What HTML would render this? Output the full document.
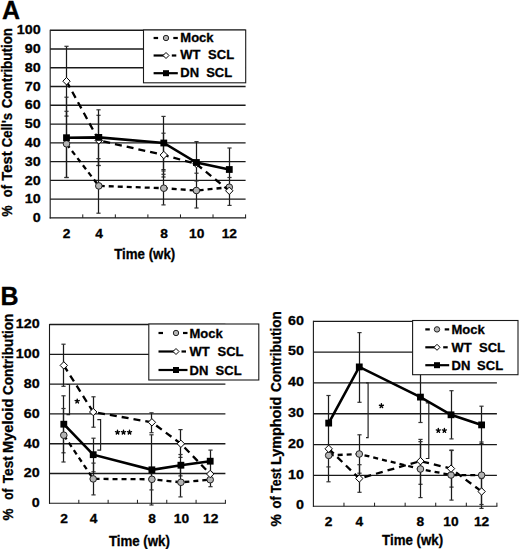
<!DOCTYPE html><html><head><meta charset="utf-8"><style>html,body{margin:0;padding:0;background:#fff;}svg{display:block;}</style></head><body>
<svg width="520" height="549" viewBox="0 0 520 549">
<rect width="520" height="549" fill="#fff"/>
<text x="1.9" y="19" font-size="25" font-family="Liberation Sans, sans-serif" font-weight="bold" stroke="#000" stroke-width="0.3">A</text>
<text x="0.4" y="304.8" font-size="25" font-family="Liberation Sans, sans-serif" font-weight="bold" stroke="#000" stroke-width="0.3">B</text>
<line x1="50.2" y1="199.13" x2="245.6" y2="199.13" stroke="#1a1a1a" stroke-width="1.35"/>
<line x1="50.2" y1="180.36" x2="245.6" y2="180.36" stroke="#1a1a1a" stroke-width="1.35"/>
<line x1="50.2" y1="161.59" x2="245.6" y2="161.59" stroke="#1a1a1a" stroke-width="1.35"/>
<line x1="50.2" y1="142.82" x2="245.6" y2="142.82" stroke="#1a1a1a" stroke-width="1.35"/>
<line x1="50.2" y1="124.05" x2="245.6" y2="124.05" stroke="#1a1a1a" stroke-width="1.35"/>
<line x1="50.2" y1="105.28" x2="245.6" y2="105.28" stroke="#1a1a1a" stroke-width="1.35"/>
<line x1="50.2" y1="86.51" x2="245.6" y2="86.51" stroke="#1a1a1a" stroke-width="1.35"/>
<line x1="50.2" y1="67.74" x2="245.6" y2="67.74" stroke="#1a1a1a" stroke-width="1.35"/>
<line x1="50.2" y1="48.97" x2="245.6" y2="48.97" stroke="#1a1a1a" stroke-width="1.35"/>
<line x1="50.2" y1="30.20" x2="245.6" y2="30.20" stroke="#1a1a1a" stroke-width="1.35"/>
<line x1="50.2" y1="29.70" x2="50.2" y2="218.40" stroke="#1a1a1a" stroke-width="1.1"/>
<line x1="49.7" y1="217.90" x2="246.1" y2="217.90" stroke="#1a1a1a" stroke-width="1.1"/>
<line x1="82.77" y1="217.90" x2="82.77" y2="214.40" stroke="#1a1a1a" stroke-width="1"/>
<line x1="115.33" y1="217.90" x2="115.33" y2="214.40" stroke="#1a1a1a" stroke-width="1"/>
<line x1="147.90" y1="217.90" x2="147.90" y2="214.40" stroke="#1a1a1a" stroke-width="1"/>
<line x1="180.47" y1="217.90" x2="180.47" y2="214.40" stroke="#1a1a1a" stroke-width="1"/>
<line x1="213.03" y1="217.90" x2="213.03" y2="214.40" stroke="#1a1a1a" stroke-width="1"/>
<line x1="245.60" y1="217.90" x2="245.60" y2="214.40" stroke="#1a1a1a" stroke-width="1"/>
<text transform="translate(40.6,222.10) scale(1.1,1)" text-anchor="end" font-size="13" font-family="Liberation Sans, sans-serif" font-weight="bold" stroke="#000" stroke-width="0.3">0</text>
<text transform="translate(40.6,203.33) scale(1.1,1)" text-anchor="end" font-size="13" font-family="Liberation Sans, sans-serif" font-weight="bold" stroke="#000" stroke-width="0.3">10</text>
<text transform="translate(40.6,184.56) scale(1.1,1)" text-anchor="end" font-size="13" font-family="Liberation Sans, sans-serif" font-weight="bold" stroke="#000" stroke-width="0.3">20</text>
<text transform="translate(40.6,165.79) scale(1.1,1)" text-anchor="end" font-size="13" font-family="Liberation Sans, sans-serif" font-weight="bold" stroke="#000" stroke-width="0.3">30</text>
<text transform="translate(40.6,147.02) scale(1.1,1)" text-anchor="end" font-size="13" font-family="Liberation Sans, sans-serif" font-weight="bold" stroke="#000" stroke-width="0.3">40</text>
<text transform="translate(40.6,128.25) scale(1.1,1)" text-anchor="end" font-size="13" font-family="Liberation Sans, sans-serif" font-weight="bold" stroke="#000" stroke-width="0.3">50</text>
<text transform="translate(40.6,109.48) scale(1.1,1)" text-anchor="end" font-size="13" font-family="Liberation Sans, sans-serif" font-weight="bold" stroke="#000" stroke-width="0.3">60</text>
<text transform="translate(40.6,90.71) scale(1.1,1)" text-anchor="end" font-size="13" font-family="Liberation Sans, sans-serif" font-weight="bold" stroke="#000" stroke-width="0.3">70</text>
<text transform="translate(40.6,71.94) scale(1.1,1)" text-anchor="end" font-size="13" font-family="Liberation Sans, sans-serif" font-weight="bold" stroke="#000" stroke-width="0.3">80</text>
<text transform="translate(40.6,53.17) scale(1.1,1)" text-anchor="end" font-size="13" font-family="Liberation Sans, sans-serif" font-weight="bold" stroke="#000" stroke-width="0.3">90</text>
<text transform="translate(40.6,34.40) scale(1.1,1)" text-anchor="end" font-size="13" font-family="Liberation Sans, sans-serif" font-weight="bold" stroke="#000" stroke-width="0.3">100</text>
<text transform="translate(66.48,238) scale(1.06,1)" text-anchor="middle" font-size="13" font-family="Liberation Sans, sans-serif" font-weight="bold" stroke="#000" stroke-width="0.3">2</text>
<text transform="translate(99.05,238) scale(1.06,1)" text-anchor="middle" font-size="13" font-family="Liberation Sans, sans-serif" font-weight="bold" stroke="#000" stroke-width="0.3">4</text>
<text transform="translate(164.18,238) scale(1.06,1)" text-anchor="middle" font-size="13" font-family="Liberation Sans, sans-serif" font-weight="bold" stroke="#000" stroke-width="0.3">8</text>
<text transform="translate(196.75,238) scale(1.06,1)" text-anchor="middle" font-size="13" font-family="Liberation Sans, sans-serif" font-weight="bold" stroke="#000" stroke-width="0.3">10</text>
<text transform="translate(229.32,238) scale(1.06,1)" text-anchor="middle" font-size="13" font-family="Liberation Sans, sans-serif" font-weight="bold" stroke="#000" stroke-width="0.3">12</text>
<text transform="translate(144.7,258.7) scale(0.93,1)" text-anchor="middle" font-size="14.3" font-family="Liberation Sans, sans-serif" font-weight="bold" stroke="#000" stroke-width="0.3">Time (wk)</text>
<text transform="translate(11.7,0) rotate(-90)" x="-216.50" y="0" font-size="14" textLength="11.00" lengthAdjust="spacingAndGlyphs" font-family="Liberation Sans, sans-serif" font-weight="bold" stroke="#000" stroke-width="0.3">%</text>
<text transform="translate(11.7,0) rotate(-90)" x="-197.15" y="0" font-size="14" textLength="12.05" lengthAdjust="spacingAndGlyphs" font-family="Liberation Sans, sans-serif" font-weight="bold" stroke="#000" stroke-width="0.3">of</text>
<text transform="translate(11.7,0) rotate(-90)" x="-180.70" y="0" font-size="14" textLength="29.30" lengthAdjust="spacingAndGlyphs" font-family="Liberation Sans, sans-serif" font-weight="bold" stroke="#000" stroke-width="0.3">Test</text>
<text transform="translate(11.7,0) rotate(-90)" x="-147.30" y="0" font-size="14" textLength="34.40" lengthAdjust="spacingAndGlyphs" font-family="Liberation Sans, sans-serif" font-weight="bold" stroke="#000" stroke-width="0.3">Cell's</text>
<text transform="translate(11.7,0) rotate(-90)" x="-108.30" y="0" font-size="14" textLength="80.30" lengthAdjust="spacingAndGlyphs" font-family="Liberation Sans, sans-serif" font-weight="bold" stroke="#000" stroke-width="0.3">Contribution</text>
<line x1="66.50" y1="46.3" x2="66.50" y2="116.1" stroke="#1a1a1a" stroke-width="1.25"/>
<line x1="64.40" y1="46.3" x2="68.60" y2="46.3" stroke="#333" stroke-width="1.2"/>
<line x1="64.40" y1="116.1" x2="68.60" y2="116.1" stroke="#333" stroke-width="1.2"/>
<line x1="66.50" y1="97.2" x2="66.50" y2="177.5" stroke="#1a1a1a" stroke-width="1.25"/>
<line x1="64.40" y1="97.2" x2="68.60" y2="97.2" stroke="#333" stroke-width="1.2"/>
<line x1="64.40" y1="177.5" x2="68.60" y2="177.5" stroke="#333" stroke-width="1.2"/>
<line x1="66.50" y1="111.3" x2="66.50" y2="177.5" stroke="#1a1a1a" stroke-width="1.25"/>
<line x1="64.40" y1="111.3" x2="68.60" y2="111.3" stroke="#333" stroke-width="1.2"/>
<line x1="64.40" y1="177.5" x2="68.60" y2="177.5" stroke="#333" stroke-width="1.2"/>
<line x1="98.50" y1="115.3" x2="98.50" y2="165.5" stroke="#1a1a1a" stroke-width="1.25"/>
<line x1="96.40" y1="115.3" x2="100.60" y2="115.3" stroke="#333" stroke-width="1.2"/>
<line x1="96.40" y1="165.5" x2="100.60" y2="165.5" stroke="#333" stroke-width="1.2"/>
<line x1="98.50" y1="109.8" x2="98.50" y2="165.5" stroke="#1a1a1a" stroke-width="1.25"/>
<line x1="96.40" y1="109.8" x2="100.60" y2="109.8" stroke="#333" stroke-width="1.2"/>
<line x1="96.40" y1="165.5" x2="100.60" y2="165.5" stroke="#333" stroke-width="1.2"/>
<line x1="98.50" y1="158.6" x2="98.50" y2="213.2" stroke="#1a1a1a" stroke-width="1.25"/>
<line x1="96.40" y1="158.6" x2="100.60" y2="158.6" stroke="#333" stroke-width="1.2"/>
<line x1="96.40" y1="213.2" x2="100.60" y2="213.2" stroke="#333" stroke-width="1.2"/>
<line x1="163.50" y1="116.4" x2="163.50" y2="169.6" stroke="#1a1a1a" stroke-width="1.25"/>
<line x1="161.40" y1="116.4" x2="165.60" y2="116.4" stroke="#333" stroke-width="1.2"/>
<line x1="161.40" y1="169.6" x2="165.60" y2="169.6" stroke="#333" stroke-width="1.2"/>
<line x1="163.50" y1="133.2" x2="163.50" y2="177" stroke="#1a1a1a" stroke-width="1.25"/>
<line x1="161.40" y1="133.2" x2="165.60" y2="133.2" stroke="#333" stroke-width="1.2"/>
<line x1="161.40" y1="177" x2="165.60" y2="177" stroke="#333" stroke-width="1.2"/>
<line x1="163.50" y1="171" x2="163.50" y2="204.9" stroke="#1a1a1a" stroke-width="1.25"/>
<line x1="161.40" y1="171" x2="165.60" y2="171" stroke="#333" stroke-width="1.2"/>
<line x1="161.40" y1="174.3" x2="165.60" y2="174.3" stroke="#333" stroke-width="1.2"/>
<line x1="161.40" y1="204.9" x2="165.60" y2="204.9" stroke="#333" stroke-width="1.2"/>
<line x1="196.50" y1="141.6" x2="196.50" y2="208" stroke="#1a1a1a" stroke-width="1.25"/>
<line x1="194.40" y1="141.6" x2="198.60" y2="141.6" stroke="#333" stroke-width="1.2"/>
<line x1="194.40" y1="173.2" x2="198.60" y2="173.2" stroke="#333" stroke-width="1.2"/>
<line x1="194.40" y1="181" x2="198.60" y2="181" stroke="#333" stroke-width="1.2"/>
<line x1="194.40" y1="208" x2="198.60" y2="208" stroke="#333" stroke-width="1.2"/>
<line x1="229.50" y1="148" x2="229.50" y2="205.4" stroke="#1a1a1a" stroke-width="1.25"/>
<line x1="227.40" y1="148" x2="231.60" y2="148" stroke="#333" stroke-width="1.2"/>
<line x1="227.40" y1="177.5" x2="231.60" y2="177.5" stroke="#333" stroke-width="1.2"/>
<line x1="227.40" y1="205.4" x2="231.60" y2="205.4" stroke="#333" stroke-width="1.2"/>
<polyline points="66.50,143.8 98.80,185.9 163.80,188.2 196.40,190.5 229.30,187.2" fill="none" stroke="#000" stroke-width="2.3" stroke-dasharray="5 4"/>
<circle cx="66.50" cy="143.8" r="3.3" fill="#b4b4b4" stroke="#222" stroke-width="1"/>
<circle cx="98.80" cy="185.9" r="3.3" fill="#b4b4b4" stroke="#222" stroke-width="1"/>
<circle cx="163.80" cy="188.2" r="3.3" fill="#b4b4b4" stroke="#222" stroke-width="1"/>
<circle cx="196.40" cy="190.5" r="3.3" fill="#b4b4b4" stroke="#222" stroke-width="1"/>
<circle cx="229.30" cy="187.2" r="3.3" fill="#b4b4b4" stroke="#222" stroke-width="1"/>
<polyline points="66.50,81.2 98.80,140.4 163.80,155 196.40,164 229.30,190.8" fill="none" stroke="#000" stroke-width="2.3" stroke-dasharray="7 5"/>
<polygon points="62.80,81.2 66.50,77.5 70.20,81.2 66.50,84.9" fill="#fff" stroke="#000" stroke-width="1"/>
<polygon points="95.10,140.4 98.80,136.70000000000002 102.50,140.4 98.80,144.1" fill="#fff" stroke="#000" stroke-width="1"/>
<polygon points="160.10,155 163.80,151.3 167.50,155 163.80,158.7" fill="#fff" stroke="#000" stroke-width="1"/>
<polygon points="192.70,164 196.40,160.3 200.10,164 196.40,167.7" fill="#fff" stroke="#000" stroke-width="1"/>
<polygon points="225.60,190.8 229.30,187.10000000000002 233.00,190.8 229.30,194.5" fill="#fff" stroke="#000" stroke-width="1"/>
<polyline points="66.50,137.7 98.80,137.4 163.80,143 196.40,162.5 229.30,169.5" fill="none" stroke="#000" stroke-width="2.6"/>
<rect x="63.10" y="134.30" width="6.8" height="6.8" fill="#000"/>
<rect x="95.40" y="134.00" width="6.8" height="6.8" fill="#000"/>
<rect x="160.40" y="139.60" width="6.8" height="6.8" fill="#000"/>
<rect x="193.00" y="159.10" width="6.8" height="6.8" fill="#000"/>
<rect x="225.90" y="166.10" width="6.8" height="6.8" fill="#000"/>
<rect x="143.5" y="30" width="102.2" height="52.8" fill="#fff" stroke="#1a1a1a" stroke-width="1.1"/>
<line x1="153.6" y1="38" x2="158.1" y2="38" stroke="#000" stroke-width="2.2"/>
<line x1="173.3" y1="38" x2="177.8" y2="38" stroke="#000" stroke-width="2.2"/>
<circle cx="166" cy="38" r="2.7" fill="#b4b4b4" stroke="#222" stroke-width="1"/>
<text x="180.3" y="41.9" font-size="13" font-family="Liberation Sans, sans-serif" font-weight="bold" stroke="#000" stroke-width="0.3">Mock</text>
<line x1="153.6" y1="55.5" x2="166" y2="55.5" stroke="#000" stroke-width="2.2"/>
<line x1="171.8" y1="55.5" x2="176.3" y2="55.5" stroke="#000" stroke-width="2.2"/>
<polygon points="163.0,55.5 166,52.5 169.0,55.5 166,58.5" fill="#fff" stroke="#000" stroke-width="1"/>
<text x="180.3" y="59.4" font-size="13" font-family="Liberation Sans, sans-serif" font-weight="bold" stroke="#000" stroke-width="0.3">WT</text>
<text x="208.10000000000002" y="59.4" font-size="13" font-family="Liberation Sans, sans-serif" font-weight="bold" stroke="#000" stroke-width="0.3">SCL</text>
<line x1="153.6" y1="73.2" x2="177.8" y2="73.2" stroke="#000" stroke-width="2.2"/>
<rect x="163" y="70.2" width="6" height="6" fill="#000"/>
<text x="180.3" y="77.10000000000001" font-size="13" font-family="Liberation Sans, sans-serif" font-weight="bold" stroke="#000" stroke-width="0.3">DN</text>
<text x="206.20000000000002" y="77.10000000000001" font-size="13" font-family="Liberation Sans, sans-serif" font-weight="bold" stroke="#000" stroke-width="0.3">SCL</text>
<line x1="49.5" y1="473.50" x2="225.4" y2="473.50" stroke="#1a1a1a" stroke-width="1.35"/>
<line x1="49.5" y1="443.70" x2="225.4" y2="443.70" stroke="#1a1a1a" stroke-width="1.35"/>
<line x1="49.5" y1="413.90" x2="225.4" y2="413.90" stroke="#1a1a1a" stroke-width="1.35"/>
<line x1="49.5" y1="384.10" x2="225.4" y2="384.10" stroke="#1a1a1a" stroke-width="1.35"/>
<line x1="49.5" y1="354.30" x2="225.4" y2="354.30" stroke="#1a1a1a" stroke-width="1.35"/>
<line x1="49.5" y1="324.50" x2="225.4" y2="324.50" stroke="#1a1a1a" stroke-width="1.35"/>
<line x1="49.5" y1="324.00" x2="49.5" y2="503.80" stroke="#1a1a1a" stroke-width="1.1"/>
<line x1="49.0" y1="503.30" x2="225.9" y2="503.30" stroke="#1a1a1a" stroke-width="1.1"/>
<line x1="78.82" y1="503.30" x2="78.82" y2="499.80" stroke="#1a1a1a" stroke-width="1"/>
<line x1="108.13" y1="503.30" x2="108.13" y2="499.80" stroke="#1a1a1a" stroke-width="1"/>
<line x1="137.45" y1="503.30" x2="137.45" y2="499.80" stroke="#1a1a1a" stroke-width="1"/>
<line x1="166.77" y1="503.30" x2="166.77" y2="499.80" stroke="#1a1a1a" stroke-width="1"/>
<line x1="196.08" y1="503.30" x2="196.08" y2="499.80" stroke="#1a1a1a" stroke-width="1"/>
<line x1="225.40" y1="503.30" x2="225.40" y2="499.80" stroke="#1a1a1a" stroke-width="1"/>
<text transform="translate(39.6,507.10) scale(1.1,1)" text-anchor="end" font-size="13" font-family="Liberation Sans, sans-serif" font-weight="bold" stroke="#000" stroke-width="0.3">0</text>
<text transform="translate(39.6,477.30) scale(1.1,1)" text-anchor="end" font-size="13" font-family="Liberation Sans, sans-serif" font-weight="bold" stroke="#000" stroke-width="0.3">20</text>
<text transform="translate(39.6,447.50) scale(1.1,1)" text-anchor="end" font-size="13" font-family="Liberation Sans, sans-serif" font-weight="bold" stroke="#000" stroke-width="0.3">40</text>
<text transform="translate(39.6,417.70) scale(1.1,1)" text-anchor="end" font-size="13" font-family="Liberation Sans, sans-serif" font-weight="bold" stroke="#000" stroke-width="0.3">60</text>
<text transform="translate(39.6,387.90) scale(1.1,1)" text-anchor="end" font-size="13" font-family="Liberation Sans, sans-serif" font-weight="bold" stroke="#000" stroke-width="0.3">80</text>
<text transform="translate(39.6,358.10) scale(1.1,1)" text-anchor="end" font-size="13" font-family="Liberation Sans, sans-serif" font-weight="bold" stroke="#000" stroke-width="0.3">100</text>
<text transform="translate(39.6,328.30) scale(1.1,1)" text-anchor="end" font-size="13" font-family="Liberation Sans, sans-serif" font-weight="bold" stroke="#000" stroke-width="0.3">120</text>
<text transform="translate(64.16,523.4) scale(1.06,1)" text-anchor="middle" font-size="13" font-family="Liberation Sans, sans-serif" font-weight="bold" stroke="#000" stroke-width="0.3">2</text>
<text transform="translate(93.47,523.4) scale(1.06,1)" text-anchor="middle" font-size="13" font-family="Liberation Sans, sans-serif" font-weight="bold" stroke="#000" stroke-width="0.3">4</text>
<text transform="translate(152.11,523.4) scale(1.06,1)" text-anchor="middle" font-size="13" font-family="Liberation Sans, sans-serif" font-weight="bold" stroke="#000" stroke-width="0.3">8</text>
<text transform="translate(181.43,523.4) scale(1.06,1)" text-anchor="middle" font-size="13" font-family="Liberation Sans, sans-serif" font-weight="bold" stroke="#000" stroke-width="0.3">10</text>
<text transform="translate(210.74,523.4) scale(1.06,1)" text-anchor="middle" font-size="13" font-family="Liberation Sans, sans-serif" font-weight="bold" stroke="#000" stroke-width="0.3">12</text>
<text transform="translate(139.4,545.5) scale(0.93,1)" text-anchor="middle" font-size="14.3" font-family="Liberation Sans, sans-serif" font-weight="bold" stroke="#000" stroke-width="0.3">Time (wk)</text>
<text transform="translate(12.5,0) rotate(-90)" x="-520.60" y="0" font-size="14" textLength="11.90" lengthAdjust="spacingAndGlyphs" font-family="Liberation Sans, sans-serif" font-weight="bold" stroke="#000" stroke-width="0.3">%</text>
<text transform="translate(12.5,0) rotate(-90)" x="-499.70" y="0" font-size="14" textLength="11.10" lengthAdjust="spacingAndGlyphs" font-family="Liberation Sans, sans-serif" font-weight="bold" stroke="#000" stroke-width="0.3">of</text>
<text transform="translate(12.5,0) rotate(-90)" x="-483.20" y="0" font-size="14" textLength="27.00" lengthAdjust="spacingAndGlyphs" font-family="Liberation Sans, sans-serif" font-weight="bold" stroke="#000" stroke-width="0.3">Test</text>
<text transform="translate(12.5,0) rotate(-90)" x="-452.90" y="0" font-size="14" textLength="54.20" lengthAdjust="spacingAndGlyphs" font-family="Liberation Sans, sans-serif" font-weight="bold" stroke="#000" stroke-width="0.3">Myeloid</text>
<text transform="translate(12.5,0) rotate(-90)" x="-395.00" y="0" font-size="14" textLength="81.20" lengthAdjust="spacingAndGlyphs" font-family="Liberation Sans, sans-serif" font-weight="bold" stroke="#000" stroke-width="0.3">Contribution</text>
<line x1="63.50" y1="344.2" x2="63.50" y2="386.3" stroke="#1a1a1a" stroke-width="1.25"/>
<line x1="61.40" y1="344.2" x2="65.60" y2="344.2" stroke="#333" stroke-width="1.2"/>
<line x1="61.40" y1="386.3" x2="65.60" y2="386.3" stroke="#333" stroke-width="1.2"/>
<line x1="63.50" y1="395.8" x2="63.50" y2="452.8" stroke="#1a1a1a" stroke-width="1.25"/>
<line x1="61.40" y1="395.8" x2="65.60" y2="395.8" stroke="#333" stroke-width="1.2"/>
<line x1="61.40" y1="452.8" x2="65.60" y2="452.8" stroke="#333" stroke-width="1.2"/>
<line x1="63.50" y1="408.5" x2="63.50" y2="462" stroke="#1a1a1a" stroke-width="1.25"/>
<line x1="61.40" y1="408.5" x2="65.60" y2="408.5" stroke="#333" stroke-width="1.2"/>
<line x1="61.40" y1="462" x2="65.60" y2="462" stroke="#333" stroke-width="1.2"/>
<line x1="93.50" y1="396.8" x2="93.50" y2="427.2" stroke="#1a1a1a" stroke-width="1.25"/>
<line x1="91.40" y1="396.8" x2="95.60" y2="396.8" stroke="#333" stroke-width="1.2"/>
<line x1="91.40" y1="427.2" x2="95.60" y2="427.2" stroke="#333" stroke-width="1.2"/>
<line x1="93.50" y1="438.2" x2="93.50" y2="471.8" stroke="#1a1a1a" stroke-width="1.25"/>
<line x1="91.40" y1="438.2" x2="95.60" y2="438.2" stroke="#333" stroke-width="1.2"/>
<line x1="91.40" y1="471.8" x2="95.60" y2="471.8" stroke="#333" stroke-width="1.2"/>
<line x1="93.50" y1="463.1" x2="93.50" y2="494.9" stroke="#1a1a1a" stroke-width="1.25"/>
<line x1="91.40" y1="463.1" x2="95.60" y2="463.1" stroke="#333" stroke-width="1.2"/>
<line x1="91.40" y1="494.9" x2="95.60" y2="494.9" stroke="#333" stroke-width="1.2"/>
<line x1="151.50" y1="412.8" x2="151.50" y2="432.7" stroke="#1a1a1a" stroke-width="1.25"/>
<line x1="149.40" y1="412.8" x2="153.60" y2="412.8" stroke="#333" stroke-width="1.2"/>
<line x1="149.40" y1="432.7" x2="153.60" y2="432.7" stroke="#333" stroke-width="1.2"/>
<line x1="151.50" y1="434.8" x2="151.50" y2="505" stroke="#1a1a1a" stroke-width="1.25"/>
<line x1="149.40" y1="434.8" x2="153.60" y2="434.8" stroke="#333" stroke-width="1.2"/>
<line x1="149.40" y1="505" x2="153.60" y2="505" stroke="#333" stroke-width="1.2"/>
<line x1="151.50" y1="468.7" x2="151.50" y2="489.9" stroke="#1a1a1a" stroke-width="1.25"/>
<line x1="149.40" y1="468.7" x2="153.60" y2="468.7" stroke="#333" stroke-width="1.2"/>
<line x1="149.40" y1="489.9" x2="153.60" y2="489.9" stroke="#333" stroke-width="1.2"/>
<line x1="180.50" y1="429.6" x2="180.50" y2="457.4" stroke="#1a1a1a" stroke-width="1.25"/>
<line x1="178.40" y1="429.6" x2="182.60" y2="429.6" stroke="#333" stroke-width="1.2"/>
<line x1="178.40" y1="457.4" x2="182.60" y2="457.4" stroke="#333" stroke-width="1.2"/>
<line x1="180.50" y1="454.5" x2="180.50" y2="475.9" stroke="#1a1a1a" stroke-width="1.25"/>
<line x1="178.40" y1="454.5" x2="182.60" y2="454.5" stroke="#333" stroke-width="1.2"/>
<line x1="178.40" y1="475.9" x2="182.60" y2="475.9" stroke="#333" stroke-width="1.2"/>
<line x1="180.50" y1="467.7" x2="180.50" y2="496.9" stroke="#1a1a1a" stroke-width="1.25"/>
<line x1="178.40" y1="467.7" x2="182.60" y2="467.7" stroke="#333" stroke-width="1.2"/>
<line x1="178.40" y1="496.9" x2="182.60" y2="496.9" stroke="#333" stroke-width="1.2"/>
<line x1="210.50" y1="450.1" x2="210.50" y2="472.3" stroke="#1a1a1a" stroke-width="1.25"/>
<line x1="208.40" y1="450.1" x2="212.60" y2="450.1" stroke="#333" stroke-width="1.2"/>
<line x1="208.40" y1="472.3" x2="212.60" y2="472.3" stroke="#333" stroke-width="1.2"/>
<line x1="210.50" y1="472.7" x2="210.50" y2="486.7" stroke="#1a1a1a" stroke-width="1.25"/>
<line x1="208.40" y1="472.7" x2="212.60" y2="472.7" stroke="#333" stroke-width="1.2"/>
<line x1="208.40" y1="486.7" x2="212.60" y2="486.7" stroke="#333" stroke-width="1.2"/>
<polyline points="66.5,384.5 69.5,384.5 69.5,414.6 66.5,414.6" fill="none" stroke="#222" stroke-width="1.2"/>
<polyline points="97.3,419.6 100.6,419.6 100.6,450.2 97.3,450.2" fill="none" stroke="#222" stroke-width="1.2"/>
<path d="M77.20,401.20L77.20,399.10M77.20,401.20L79.20,400.55M77.20,401.20L78.43,402.90M77.20,401.20L75.97,402.90M77.20,401.20L75.20,400.55" stroke="#000" stroke-width="1.4" stroke-linecap="round" fill="none"/>
<path d="M117.50,432.30L117.50,430.20M117.50,432.30L119.50,431.65M117.50,432.30L118.73,434.00M117.50,432.30L116.27,434.00M117.50,432.30L115.50,431.65" stroke="#000" stroke-width="1.4" stroke-linecap="round" fill="none"/>
<path d="M123.50,432.30L123.50,430.20M123.50,432.30L125.50,431.65M123.50,432.30L124.73,434.00M123.50,432.30L122.27,434.00M123.50,432.30L121.50,431.65" stroke="#000" stroke-width="1.4" stroke-linecap="round" fill="none"/>
<path d="M129.50,432.30L129.50,430.20M129.50,432.30L131.50,431.65M129.50,432.30L130.73,434.00M129.50,432.30L128.27,434.00M129.50,432.30L127.50,431.65" stroke="#000" stroke-width="1.4" stroke-linecap="round" fill="none"/>
<polyline points="63.80,435.2 93.20,478.9 151.90,479.3 180.90,482.3 210.20,479.7" fill="none" stroke="#000" stroke-width="2.3" stroke-dasharray="5 4"/>
<circle cx="63.80" cy="435.2" r="3.3" fill="#b4b4b4" stroke="#222" stroke-width="1"/>
<circle cx="93.20" cy="478.9" r="3.3" fill="#b4b4b4" stroke="#222" stroke-width="1"/>
<circle cx="151.90" cy="479.3" r="3.3" fill="#b4b4b4" stroke="#222" stroke-width="1"/>
<circle cx="180.90" cy="482.3" r="3.3" fill="#b4b4b4" stroke="#222" stroke-width="1"/>
<circle cx="210.20" cy="479.7" r="3.3" fill="#b4b4b4" stroke="#222" stroke-width="1"/>
<polyline points="63.80,365.4 93.20,412 151.90,422.3 180.90,443.8 210.20,474" fill="none" stroke="#000" stroke-width="2.3" stroke-dasharray="7 5"/>
<polygon points="60.10,365.4 63.80,361.7 67.50,365.4 63.80,369.09999999999997" fill="#fff" stroke="#000" stroke-width="1"/>
<polygon points="89.50,412 93.20,408.3 96.90,412 93.20,415.7" fill="#fff" stroke="#000" stroke-width="1"/>
<polygon points="148.20,422.3 151.90,418.6 155.60,422.3 151.90,426.0" fill="#fff" stroke="#000" stroke-width="1"/>
<polygon points="177.20,443.8 180.90,440.1 184.60,443.8 180.90,447.5" fill="#fff" stroke="#000" stroke-width="1"/>
<polygon points="206.50,474 210.20,470.3 213.90,474 210.20,477.7" fill="#fff" stroke="#000" stroke-width="1"/>
<polyline points="63.80,424.2 93.20,454.7 151.90,469.8 180.90,465.2 210.20,461.2" fill="none" stroke="#000" stroke-width="2.6"/>
<rect x="60.40" y="420.80" width="6.8" height="6.8" fill="#000"/>
<rect x="89.80" y="451.30" width="6.8" height="6.8" fill="#000"/>
<rect x="148.50" y="466.40" width="6.8" height="6.8" fill="#000"/>
<rect x="177.50" y="461.80" width="6.8" height="6.8" fill="#000"/>
<rect x="206.80" y="457.80" width="6.8" height="6.8" fill="#000"/>
<rect x="148.8" y="324" width="110" height="56" fill="#fff" stroke="#1a1a1a" stroke-width="1.1"/>
<line x1="158.5" y1="333" x2="163.0" y2="333" stroke="#000" stroke-width="2.2"/>
<line x1="183.0" y1="333" x2="187.5" y2="333" stroke="#000" stroke-width="2.2"/>
<circle cx="176" cy="333" r="2.7" fill="#b4b4b4" stroke="#222" stroke-width="1"/>
<text x="189.5" y="337.5" font-size="13" font-family="Liberation Sans, sans-serif" font-weight="bold" stroke="#000" stroke-width="0.3">Mock</text>
<line x1="158.5" y1="351.5" x2="176" y2="351.5" stroke="#000" stroke-width="2.2"/>
<line x1="181.5" y1="351.5" x2="186.0" y2="351.5" stroke="#000" stroke-width="2.2"/>
<polygon points="173.0,351.5 176,348.5 179.0,351.5 176,354.5" fill="#fff" stroke="#000" stroke-width="1"/>
<text x="189.5" y="356.0" font-size="13" font-family="Liberation Sans, sans-serif" font-weight="bold" stroke="#000" stroke-width="0.3">WT</text>
<text x="217.5" y="356.0" font-size="13" font-family="Liberation Sans, sans-serif" font-weight="bold" stroke="#000" stroke-width="0.3">SCL</text>
<line x1="158.5" y1="370" x2="187.5" y2="370" stroke="#000" stroke-width="2.2"/>
<rect x="173" y="367" width="6" height="6" fill="#000"/>
<text x="189.5" y="374.5" font-size="13" font-family="Liberation Sans, sans-serif" font-weight="bold" stroke="#000" stroke-width="0.3">DN</text>
<text x="215.6" y="374.5" font-size="13" font-family="Liberation Sans, sans-serif" font-weight="bold" stroke="#000" stroke-width="0.3">SCL</text>
<line x1="313.4" y1="475.38" x2="496.9" y2="475.38" stroke="#1a1a1a" stroke-width="1.35"/>
<line x1="313.4" y1="444.57" x2="496.9" y2="444.57" stroke="#1a1a1a" stroke-width="1.35"/>
<line x1="313.4" y1="413.75" x2="496.9" y2="413.75" stroke="#1a1a1a" stroke-width="1.35"/>
<line x1="313.4" y1="382.93" x2="496.9" y2="382.93" stroke="#1a1a1a" stroke-width="1.35"/>
<line x1="313.4" y1="352.12" x2="496.9" y2="352.12" stroke="#1a1a1a" stroke-width="1.35"/>
<line x1="313.4" y1="321.30" x2="496.9" y2="321.30" stroke="#1a1a1a" stroke-width="1.35"/>
<line x1="313.4" y1="320.80" x2="313.4" y2="506.70" stroke="#1a1a1a" stroke-width="1.1"/>
<line x1="312.9" y1="506.20" x2="497.4" y2="506.20" stroke="#1a1a1a" stroke-width="1.1"/>
<line x1="343.98" y1="506.20" x2="343.98" y2="502.70" stroke="#1a1a1a" stroke-width="1"/>
<line x1="374.57" y1="506.20" x2="374.57" y2="502.70" stroke="#1a1a1a" stroke-width="1"/>
<line x1="405.15" y1="506.20" x2="405.15" y2="502.70" stroke="#1a1a1a" stroke-width="1"/>
<line x1="435.73" y1="506.20" x2="435.73" y2="502.70" stroke="#1a1a1a" stroke-width="1"/>
<line x1="466.32" y1="506.20" x2="466.32" y2="502.70" stroke="#1a1a1a" stroke-width="1"/>
<line x1="496.90" y1="506.20" x2="496.90" y2="502.70" stroke="#1a1a1a" stroke-width="1"/>
<text transform="translate(303.9,509.40) scale(1.1,1)" text-anchor="end" font-size="13" font-family="Liberation Sans, sans-serif" font-weight="bold" stroke="#000" stroke-width="0.3">0</text>
<text transform="translate(303.9,478.58) scale(1.1,1)" text-anchor="end" font-size="13" font-family="Liberation Sans, sans-serif" font-weight="bold" stroke="#000" stroke-width="0.3">10</text>
<text transform="translate(303.9,447.77) scale(1.1,1)" text-anchor="end" font-size="13" font-family="Liberation Sans, sans-serif" font-weight="bold" stroke="#000" stroke-width="0.3">20</text>
<text transform="translate(303.9,416.95) scale(1.1,1)" text-anchor="end" font-size="13" font-family="Liberation Sans, sans-serif" font-weight="bold" stroke="#000" stroke-width="0.3">30</text>
<text transform="translate(303.9,386.13) scale(1.1,1)" text-anchor="end" font-size="13" font-family="Liberation Sans, sans-serif" font-weight="bold" stroke="#000" stroke-width="0.3">40</text>
<text transform="translate(303.9,355.32) scale(1.1,1)" text-anchor="end" font-size="13" font-family="Liberation Sans, sans-serif" font-weight="bold" stroke="#000" stroke-width="0.3">50</text>
<text transform="translate(303.9,324.50) scale(1.1,1)" text-anchor="end" font-size="13" font-family="Liberation Sans, sans-serif" font-weight="bold" stroke="#000" stroke-width="0.3">60</text>
<text transform="translate(328.69,526.4) scale(1.06,1)" text-anchor="middle" font-size="13" font-family="Liberation Sans, sans-serif" font-weight="bold" stroke="#000" stroke-width="0.3">2</text>
<text transform="translate(359.27,526.4) scale(1.06,1)" text-anchor="middle" font-size="13" font-family="Liberation Sans, sans-serif" font-weight="bold" stroke="#000" stroke-width="0.3">4</text>
<text transform="translate(420.44,526.4) scale(1.06,1)" text-anchor="middle" font-size="13" font-family="Liberation Sans, sans-serif" font-weight="bold" stroke="#000" stroke-width="0.3">8</text>
<text transform="translate(451.02,526.4) scale(1.06,1)" text-anchor="middle" font-size="13" font-family="Liberation Sans, sans-serif" font-weight="bold" stroke="#000" stroke-width="0.3">10</text>
<text transform="translate(481.61,526.4) scale(1.06,1)" text-anchor="middle" font-size="13" font-family="Liberation Sans, sans-serif" font-weight="bold" stroke="#000" stroke-width="0.3">12</text>
<text transform="translate(412.6,545.3) scale(0.93,1)" text-anchor="middle" font-size="14.3" font-family="Liberation Sans, sans-serif" font-weight="bold" stroke="#000" stroke-width="0.3">Time (wk)</text>
<text transform="translate(280.5,0) rotate(-90)" x="-526.50" y="0" font-size="14" textLength="12.30" lengthAdjust="spacingAndGlyphs" font-family="Liberation Sans, sans-serif" font-weight="bold" stroke="#000" stroke-width="0.3">%</text>
<text transform="translate(280.5,0) rotate(-90)" x="-508.40" y="0" font-size="14" textLength="12.20" lengthAdjust="spacingAndGlyphs" font-family="Liberation Sans, sans-serif" font-weight="bold" stroke="#000" stroke-width="0.3">of</text>
<text transform="translate(280.5,0) rotate(-90)" x="-492.90" y="0" font-size="14" textLength="24.60" lengthAdjust="spacingAndGlyphs" font-family="Liberation Sans, sans-serif" font-weight="bold" stroke="#000" stroke-width="0.3">Test</text>
<text transform="translate(280.5,0) rotate(-90)" x="-465.10" y="0" font-size="14" textLength="68.30" lengthAdjust="spacingAndGlyphs" font-family="Liberation Sans, sans-serif" font-weight="bold" stroke="#000" stroke-width="0.3">Lymphoid</text>
<text transform="translate(280.5,0) rotate(-90)" x="-392.10" y="0" font-size="14" textLength="80.85" lengthAdjust="spacingAndGlyphs" font-family="Liberation Sans, sans-serif" font-weight="bold" stroke="#000" stroke-width="0.3">Contribution</text>
<line x1="328.50" y1="395.5" x2="328.50" y2="481.8" stroke="#1a1a1a" stroke-width="1.25"/>
<line x1="326.40" y1="395.5" x2="330.60" y2="395.5" stroke="#333" stroke-width="1.2"/>
<line x1="326.40" y1="466.9" x2="330.60" y2="466.9" stroke="#333" stroke-width="1.2"/>
<line x1="326.40" y1="481.8" x2="330.60" y2="481.8" stroke="#333" stroke-width="1.2"/>
<line x1="359.50" y1="332.6" x2="359.50" y2="402.3" stroke="#1a1a1a" stroke-width="1.25"/>
<line x1="357.40" y1="332.6" x2="361.60" y2="332.6" stroke="#333" stroke-width="1.2"/>
<line x1="357.40" y1="402.3" x2="361.60" y2="402.3" stroke="#333" stroke-width="1.2"/>
<line x1="359.50" y1="434.8" x2="359.50" y2="473.2" stroke="#1a1a1a" stroke-width="1.25"/>
<line x1="357.40" y1="434.8" x2="361.60" y2="434.8" stroke="#333" stroke-width="1.2"/>
<line x1="357.40" y1="473.2" x2="361.60" y2="473.2" stroke="#333" stroke-width="1.2"/>
<line x1="359.50" y1="464.7" x2="359.50" y2="492.3" stroke="#1a1a1a" stroke-width="1.25"/>
<line x1="357.40" y1="464.7" x2="361.60" y2="464.7" stroke="#333" stroke-width="1.2"/>
<line x1="357.40" y1="492.3" x2="361.60" y2="492.3" stroke="#333" stroke-width="1.2"/>
<line x1="420.50" y1="374.6" x2="420.50" y2="422.5" stroke="#1a1a1a" stroke-width="1.25"/>
<line x1="418.40" y1="422.5" x2="422.60" y2="422.5" stroke="#333" stroke-width="1.2"/>
<line x1="420.50" y1="439.4" x2="420.50" y2="484.3" stroke="#1a1a1a" stroke-width="1.25"/>
<line x1="418.40" y1="439.4" x2="422.60" y2="439.4" stroke="#333" stroke-width="1.2"/>
<line x1="418.40" y1="484.3" x2="422.60" y2="484.3" stroke="#333" stroke-width="1.2"/>
<line x1="420.50" y1="441.6" x2="420.50" y2="497.6" stroke="#1a1a1a" stroke-width="1.25"/>
<line x1="418.40" y1="441.6" x2="422.60" y2="441.6" stroke="#333" stroke-width="1.2"/>
<line x1="418.40" y1="497.6" x2="422.60" y2="497.6" stroke="#333" stroke-width="1.2"/>
<line x1="451.50" y1="390.7" x2="451.50" y2="438.9" stroke="#1a1a1a" stroke-width="1.25"/>
<line x1="449.40" y1="390.7" x2="453.60" y2="390.7" stroke="#333" stroke-width="1.2"/>
<line x1="449.40" y1="438.9" x2="453.60" y2="438.9" stroke="#333" stroke-width="1.2"/>
<line x1="451.50" y1="450.1" x2="451.50" y2="487.1" stroke="#1a1a1a" stroke-width="1.25"/>
<line x1="449.40" y1="450.1" x2="453.60" y2="450.1" stroke="#333" stroke-width="1.2"/>
<line x1="449.40" y1="487.1" x2="453.60" y2="487.1" stroke="#333" stroke-width="1.2"/>
<line x1="451.50" y1="450.5" x2="451.50" y2="500.1" stroke="#1a1a1a" stroke-width="1.25"/>
<line x1="449.40" y1="450.5" x2="453.60" y2="450.5" stroke="#333" stroke-width="1.2"/>
<line x1="449.40" y1="500.1" x2="453.60" y2="500.1" stroke="#333" stroke-width="1.2"/>
<line x1="481.50" y1="406.2" x2="481.50" y2="443.6" stroke="#1a1a1a" stroke-width="1.25"/>
<line x1="479.40" y1="406.2" x2="483.60" y2="406.2" stroke="#333" stroke-width="1.2"/>
<line x1="479.40" y1="443.6" x2="483.60" y2="443.6" stroke="#333" stroke-width="1.2"/>
<line x1="481.50" y1="442" x2="481.50" y2="508.4" stroke="#1a1a1a" stroke-width="1.25"/>
<line x1="479.40" y1="442" x2="483.60" y2="442" stroke="#333" stroke-width="1.2"/>
<line x1="479.40" y1="508.4" x2="483.60" y2="508.4" stroke="#333" stroke-width="1.2"/>
<line x1="481.50" y1="478.5" x2="481.50" y2="504.5" stroke="#1a1a1a" stroke-width="1.25"/>
<line x1="479.40" y1="478.5" x2="483.60" y2="478.5" stroke="#333" stroke-width="1.2"/>
<line x1="479.40" y1="504.5" x2="483.60" y2="504.5" stroke="#333" stroke-width="1.2"/>
<polyline points="366,382.8 368.1,382.8 368.1,437.7 366,437.7" fill="none" stroke="#222" stroke-width="1.2"/>
<polyline points="425.8,402.9 428.8,402.9 428.8,458.5 425.8,458.5" fill="none" stroke="#222" stroke-width="1.2"/>
<path d="M381.40,405.90L381.40,403.80M381.40,405.90L383.40,405.25M381.40,405.90L382.63,407.60M381.40,405.90L380.17,407.60M381.40,405.90L379.40,405.25" stroke="#000" stroke-width="1.4" stroke-linecap="round" fill="none"/>
<path d="M438.30,430.60L438.30,428.50M438.30,430.60L440.30,429.95M438.30,430.60L439.53,432.30M438.30,430.60L437.07,432.30M438.30,430.60L436.30,429.95" stroke="#000" stroke-width="1.4" stroke-linecap="round" fill="none"/>
<path d="M444.40,430.60L444.40,428.50M444.40,430.60L446.40,429.95M444.40,430.60L445.63,432.30M444.40,430.60L443.17,432.30M444.40,430.60L442.40,429.95" stroke="#000" stroke-width="1.4" stroke-linecap="round" fill="none"/>
<polyline points="328.69,455.4 359.27,454 420.44,469 451.02,475 481.61,475.2" fill="none" stroke="#000" stroke-width="2.3" stroke-dasharray="5 4"/>
<circle cx="328.69" cy="455.4" r="3.3" fill="#b4b4b4" stroke="#222" stroke-width="1"/>
<circle cx="359.27" cy="454" r="3.3" fill="#b4b4b4" stroke="#222" stroke-width="1"/>
<circle cx="420.44" cy="469" r="3.3" fill="#b4b4b4" stroke="#222" stroke-width="1"/>
<circle cx="451.02" cy="475" r="3.3" fill="#b4b4b4" stroke="#222" stroke-width="1"/>
<circle cx="481.61" cy="475.2" r="3.3" fill="#b4b4b4" stroke="#222" stroke-width="1"/>
<polyline points="328.69,448.8 359.27,478.5 420.44,461.1 451.02,468.6 481.61,491.5" fill="none" stroke="#000" stroke-width="2.3" stroke-dasharray="7 5"/>
<polygon points="324.99,448.8 328.69,445.1 332.39,448.8 328.69,452.5" fill="#fff" stroke="#000" stroke-width="1"/>
<polygon points="355.57,478.5 359.27,474.8 362.97,478.5 359.27,482.2" fill="#fff" stroke="#000" stroke-width="1"/>
<polygon points="416.74,461.1 420.44,457.40000000000003 424.14,461.1 420.44,464.8" fill="#fff" stroke="#000" stroke-width="1"/>
<polygon points="447.32,468.6 451.02,464.90000000000003 454.72,468.6 451.02,472.3" fill="#fff" stroke="#000" stroke-width="1"/>
<polygon points="477.91,491.5 481.61,487.8 485.31,491.5 481.61,495.2" fill="#fff" stroke="#000" stroke-width="1"/>
<polyline points="328.69,423.1 359.27,366.9 420.44,397.1 451.02,414.8 481.61,424.9" fill="none" stroke="#000" stroke-width="2.6"/>
<rect x="325.29" y="419.70" width="6.8" height="6.8" fill="#000"/>
<rect x="355.88" y="363.50" width="6.8" height="6.8" fill="#000"/>
<rect x="417.04" y="393.70" width="6.8" height="6.8" fill="#000"/>
<rect x="447.62" y="411.40" width="6.8" height="6.8" fill="#000"/>
<rect x="478.21" y="421.50" width="6.8" height="6.8" fill="#000"/>
<rect x="412.6" y="320.5" width="105.4" height="54.2" fill="#fff" stroke="#1a1a1a" stroke-width="1.1"/>
<line x1="425.3" y1="329.4" x2="429.8" y2="329.4" stroke="#000" stroke-width="2.2"/>
<line x1="444.7" y1="329.4" x2="449.2" y2="329.4" stroke="#000" stroke-width="2.2"/>
<circle cx="437" cy="329.4" r="2.7" fill="#b4b4b4" stroke="#222" stroke-width="1"/>
<text x="451.5" y="333.9" font-size="13" font-family="Liberation Sans, sans-serif" font-weight="bold" stroke="#000" stroke-width="0.3">Mock</text>
<line x1="425.3" y1="347.3" x2="437" y2="347.3" stroke="#000" stroke-width="2.2"/>
<line x1="443.2" y1="347.3" x2="447.7" y2="347.3" stroke="#000" stroke-width="2.2"/>
<polygon points="434.0,347.3 437,344.3 440.0,347.3 437,350.3" fill="#fff" stroke="#000" stroke-width="1"/>
<text x="451.5" y="351.8" font-size="13" font-family="Liberation Sans, sans-serif" font-weight="bold" stroke="#000" stroke-width="0.3">WT</text>
<text x="479.0" y="351.8" font-size="13" font-family="Liberation Sans, sans-serif" font-weight="bold" stroke="#000" stroke-width="0.3">SCL</text>
<line x1="425.3" y1="365.2" x2="449.2" y2="365.2" stroke="#000" stroke-width="2.2"/>
<rect x="434" y="362.2" width="6" height="6" fill="#000"/>
<text x="451.5" y="369.7" font-size="13" font-family="Liberation Sans, sans-serif" font-weight="bold" stroke="#000" stroke-width="0.3">DN</text>
<text x="477.1" y="369.7" font-size="13" font-family="Liberation Sans, sans-serif" font-weight="bold" stroke="#000" stroke-width="0.3">SCL</text>
</svg></body></html>
